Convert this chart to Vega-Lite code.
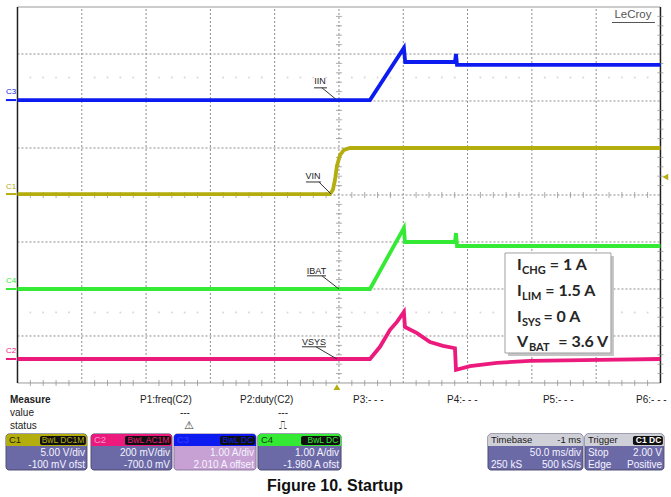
{
"$schema": "https://vega.github.io/schema/vega-lite/v6.json",
"width": 671, "height": 497,
"autosize": {"type": "fit", "contains": "padding"},
"padding": 0,
"background": "white",
"config": {"view": {"stroke": null}, "text": {"font": "Liberation Sans"}},
"datasets": {
 "vgrid": [{"t":-200,"v":-4,"v2":4},{"t":-150,"v":-4,"v2":4},{"t":-100,"v":-4,"v2":4},{"t":-50,"v":-4,"v2":4},{"t":0,"v":-4,"v2":4},{"t":50,"v":-4,"v2":4},{"t":100,"v":-4,"v2":4},{"t":150,"v":-4,"v2":4},{"t":200,"v":-4,"v2":4}],
 "hgrid": [{"t":-250,"t2":250,"v":-3},{"t":-250,"t2":250,"v":-2},{"t":-250,"t2":250,"v":-1},{"t":-250,"t2":250,"v":0},{"t":-250,"t2":250,"v":1},{"t":-250,"t2":250,"v":2},{"t":-250,"t2":250,"v":3}],
 "border_h": [{"t":-250,"t2":250,"v":4,"v2":4},{"t":-250,"t2":250,"v":-4,"v2":-4}],
 "border_v": [{"t":-250,"t2":-250,"v":-4,"v2":4},{"t":250,"t2":250,"v":-4,"v2":4}],
 "tkv": [
  {"t":-240,"v":0},{"t":-230,"v":0},{"t":-220,"v":0},{"t":-210,"v":0},{"t":-190,"v":0},{"t":-180,"v":0},{"t":-170,"v":0},{"t":-160,"v":0},{"t":-140,"v":0},{"t":-130,"v":0},{"t":-120,"v":0},{"t":-110,"v":0},{"t":-90,"v":0},{"t":-80,"v":0},{"t":-70,"v":0},{"t":-60,"v":0},{"t":-40,"v":0},{"t":-30,"v":0},{"t":-20,"v":0},{"t":-10,"v":0},{"t":10,"v":0},{"t":20,"v":0},{"t":30,"v":0},{"t":40,"v":0},{"t":60,"v":0},{"t":70,"v":0},{"t":80,"v":0},{"t":90,"v":0},{"t":110,"v":0},{"t":120,"v":0},{"t":130,"v":0},{"t":140,"v":0},{"t":160,"v":0},{"t":170,"v":0},{"t":180,"v":0},{"t":190,"v":0},{"t":210,"v":0},{"t":220,"v":0},{"t":230,"v":0},{"t":240,"v":0},
  {"t":-240,"v":-4},{"t":-230,"v":-4},{"t":-220,"v":-4},{"t":-210,"v":-4},{"t":-190,"v":-4},{"t":-180,"v":-4},{"t":-170,"v":-4},{"t":-160,"v":-4},{"t":-140,"v":-4},{"t":-130,"v":-4},{"t":-120,"v":-4},{"t":-110,"v":-4},{"t":-90,"v":-4},{"t":-80,"v":-4},{"t":-70,"v":-4},{"t":-60,"v":-4},{"t":-40,"v":-4},{"t":-30,"v":-4},{"t":-20,"v":-4},{"t":-10,"v":-4},{"t":10,"v":-4},{"t":20,"v":-4},{"t":30,"v":-4},{"t":40,"v":-4},{"t":60,"v":-4},{"t":70,"v":-4},{"t":80,"v":-4},{"t":90,"v":-4},{"t":110,"v":-4},{"t":120,"v":-4},{"t":130,"v":-4},{"t":140,"v":-4},{"t":160,"v":-4},{"t":170,"v":-4},{"t":180,"v":-4},{"t":190,"v":-4},{"t":210,"v":-4},{"t":220,"v":-4},{"t":230,"v":-4},{"t":240,"v":-4}
 ],
 "dots": [
  {"t":-240,"v":2.5},{"t":-230,"v":2.5},{"t":-220,"v":2.5},{"t":-210,"v":2.5},{"t":-190,"v":2.5},{"t":-180,"v":2.5},{"t":-170,"v":2.5},{"t":-160,"v":2.5},{"t":-140,"v":2.5},{"t":-130,"v":2.5},{"t":-120,"v":2.5},{"t":-110,"v":2.5},{"t":-90,"v":2.5},{"t":-80,"v":2.5},{"t":-70,"v":2.5},{"t":-60,"v":2.5},{"t":-40,"v":2.5},{"t":-30,"v":2.5},{"t":-20,"v":2.5},{"t":-10,"v":2.5},{"t":10,"v":2.5},{"t":20,"v":2.5},{"t":30,"v":2.5},{"t":40,"v":2.5},{"t":60,"v":2.5},{"t":70,"v":2.5},{"t":80,"v":2.5},{"t":90,"v":2.5},{"t":110,"v":2.5},{"t":120,"v":2.5},{"t":130,"v":2.5},{"t":140,"v":2.5},{"t":160,"v":2.5},{"t":170,"v":2.5},{"t":180,"v":2.5},{"t":190,"v":2.5},{"t":210,"v":2.5},{"t":220,"v":2.5},{"t":230,"v":2.5},{"t":240,"v":2.5},
  {"t":-240,"v":-2.5},{"t":-230,"v":-2.5},{"t":-220,"v":-2.5},{"t":-210,"v":-2.5},{"t":-190,"v":-2.5},{"t":-180,"v":-2.5},{"t":-170,"v":-2.5},{"t":-160,"v":-2.5},{"t":-140,"v":-2.5},{"t":-130,"v":-2.5},{"t":-120,"v":-2.5},{"t":-110,"v":-2.5},{"t":-90,"v":-2.5},{"t":-80,"v":-2.5},{"t":-70,"v":-2.5},{"t":-60,"v":-2.5},{"t":-40,"v":-2.5},{"t":-30,"v":-2.5},{"t":-20,"v":-2.5},{"t":-10,"v":-2.5},{"t":10,"v":-2.5},{"t":20,"v":-2.5},{"t":30,"v":-2.5},{"t":40,"v":-2.5},{"t":60,"v":-2.5},{"t":70,"v":-2.5},{"t":80,"v":-2.5},{"t":90,"v":-2.5},{"t":110,"v":-2.5},{"t":120,"v":-2.5},{"t":130,"v":-2.5},{"t":140,"v":-2.5},{"t":160,"v":-2.5},{"t":170,"v":-2.5},{"t":180,"v":-2.5},{"t":190,"v":-2.5},{"t":210,"v":-2.5},{"t":220,"v":-2.5},{"t":230,"v":-2.5},{"t":240,"v":-2.5}
 ],
 "tkh": [
  {"t":0,"v":-3.8},{"t":0,"v":-3.6},{"t":0,"v":-3.4},{"t":0,"v":-3.2},{"t":0,"v":-2.8},{"t":0,"v":-2.6},{"t":0,"v":-2.4},{"t":0,"v":-2.2},{"t":0,"v":-1.8},{"t":0,"v":-1.6},{"t":0,"v":-1.4},{"t":0,"v":-1.2},{"t":0,"v":-0.8},{"t":0,"v":-0.6},{"t":0,"v":-0.4},{"t":0,"v":-0.2},{"t":0,"v":0.2},{"t":0,"v":0.4},{"t":0,"v":0.6},{"t":0,"v":0.8},{"t":0,"v":1.2},{"t":0,"v":1.4},{"t":0,"v":1.6},{"t":0,"v":1.8},{"t":0,"v":2.2},{"t":0,"v":2.4},{"t":0,"v":2.6},{"t":0,"v":2.8},{"t":0,"v":3.2},{"t":0,"v":3.4},{"t":0,"v":3.6},{"t":0,"v":3.8},
  {"t":250,"v":-3.8},{"t":250,"v":-3.6},{"t":250,"v":-3.4},{"t":250,"v":-3.2},{"t":250,"v":-2.8},{"t":250,"v":-2.6},{"t":250,"v":-2.4},{"t":250,"v":-2.2},{"t":250,"v":-1.8},{"t":250,"v":-1.6},{"t":250,"v":-1.4},{"t":250,"v":-1.2},{"t":250,"v":-0.8},{"t":250,"v":-0.6},{"t":250,"v":-0.4},{"t":250,"v":-0.2},{"t":250,"v":0.2},{"t":250,"v":0.4},{"t":250,"v":0.6},{"t":250,"v":0.8},{"t":250,"v":1.2},{"t":250,"v":1.4},{"t":250,"v":1.6},{"t":250,"v":1.8},{"t":250,"v":2.2},{"t":250,"v":2.4},{"t":250,"v":2.6},{"t":250,"v":2.8},{"t":250,"v":3.2},{"t":250,"v":3.4},{"t":250,"v":3.6},{"t":250,"v":3.8}
 ],
 "tr": [
  {"ch":"C3","t":-250,"v":2.02},{"ch":"C3","t":24.1,"v":2.02},{"ch":"C3","t":50.5,"v":3.13},{"ch":"C3","t":51.5,"v":2.83},{"ch":"C3","t":90.2,"v":2.83},{"ch":"C3","t":91.0,"v":3.0},{"ch":"C3","t":91.8,"v":2.77},{"ch":"C3","t":250,"v":2.77},
  {"ch":"C1","t":-250,"v":0.02},{"ch":"C1","t":-7,"v":0.02},{"ch":"C1","t":-4.7,"v":0.11},{"ch":"C1","t":-3.1,"v":0.32},{"ch":"C1","t":-1.6,"v":0.62},{"ch":"C1","t":0.8,"v":0.85},{"ch":"C1","t":3.9,"v":0.96},{"ch":"C1","t":8.6,"v":1.0},{"ch":"C1","t":250,"v":1.0},
  {"ch":"C4","t":-250,"v":-2.0},{"ch":"C4","t":24.1,"v":-2.0},{"ch":"C4","t":50.5,"v":-0.70},{"ch":"C4","t":51.3,"v":-1.0},{"ch":"C4","t":90.2,"v":-1.0},{"ch":"C4","t":91.0,"v":-0.81},{"ch":"C4","t":91.8,"v":-1.085},{"ch":"C4","t":250,"v":-1.085},
  {"ch":"C2","t":-250,"v":-3.49},{"ch":"C2","t":24.1,"v":-3.49},{"ch":"C2","t":31.9,"v":-3.23},{"ch":"C2","t":39.7,"v":-2.87},{"ch":"C2","t":45.1,"v":-2.70},{"ch":"C2","t":50.5,"v":-2.49},{"ch":"C2","t":51.3,"v":-2.81},{"ch":"C2","t":60.7,"v":-2.94},{"ch":"C2","t":70.8,"v":-3.13},{"ch":"C2","t":80.9,"v":-3.21},{"ch":"C2","t":90.2,"v":-3.26},{"ch":"C2","t":91.0,"v":-3.72},{"ch":"C2","t":101.9,"v":-3.64},{"ch":"C2","t":122.9,"v":-3.57},{"ch":"C2","t":148.5,"v":-3.53},{"ch":"C2","t":203,"v":-3.51},{"ch":"C2","t":250,"v":-3.49}
 ],
 "chlab": [{"ch":"C3","t":-259,"v":2.2},{"ch":"C1","t":-259,"v":0.18},{"ch":"C4","t":-259,"v":-1.84},{"ch":"C2","t":-259,"v":-3.32}],
 "chdash": [{"ch":"C3","t":-259,"t2":-251,"v":2.02,"v2":2.02},{"ch":"C1","t":-259,"t2":-251,"v":0.02,"v2":0.02},{"ch":"C4","t":-259,"t2":-251,"v":-2.0,"v2":-2.0},{"ch":"C2","t":-259,"t2":-251,"v":-3.49,"v2":-3.49}],
 "ann": [{"t":-14.8,"v":2.43,"s":"IIN"},{"t":-20.2,"v":0.40,"s":"VIN"},{"t":-17.5,"v":-1.62,"s":"IBAT"},{"t":-19.4,"v":-3.13,"s":"VSYS"}],
 "annl": [
  {"t":-19.4,"t2":-9.3,"v":2.28,"v2":2.28},{"t":-13.2,"t2":-1.6,"v":2.28,"v2":2.02},
  {"t":-25.7,"t2":-14.0,"v":0.277,"v2":0.277},{"t":-15.6,"t2":-6.2,"v":0.277,"v2":0.02},
  {"t":-24.9,"t2":-10.1,"v":-1.72,"v2":-1.72},{"t":-13.2,"t2":0,"v":-1.72,"v2":-2.0},
  {"t":-28.8,"t2":-10.1,"v":-3.23,"v2":-3.23},{"t":-17.9,"t2":-1.6,"v":-3.23,"v2":-3.49}
 ],
 "lecroy": [{"t":228.6,"v":3.83,"s":"LeCroy"}],
 "lecroyl": [{"t":212.3,"t2":245.7,"v":3.67,"v2":3.67}],
 "trigl": [{"t":253.8,"v":0.383}],
 "trigp": [{"t":-1.6,"v":-4.09}],
 "shadow": [{"t":131.4,"t2":213.8,"v":-1.298,"v2":-3.426}],
 "tbox": [{"t":129.1,"t2":211.5,"v":-1.234,"v2":-3.362}],
 "bmain": [{"t":138.4,"v":-1.596,"s":"I"},{"t":138.4,"v":-2.149,"s":"I"},{"t":138.4,"v":-2.702,"s":"I"},{"t":138.4,"v":-3.234,"s":"V"}],
 "bsub": [{"t":142.3,"v":-1.596,"s":"CHG"},{"t":142.3,"v":-2.149,"s":"LIM"},{"t":142.3,"v":-2.702,"s":"SYS"},{"t":147.7,"v":-3.234,"s":"BAT"}],
 "brest": [{"t":164.0,"v":-1.596,"s":"= 1 A"},{"t":160.5,"v":-2.149,"s":"= 1.5 A"},{"t":159.0,"v":-2.702,"s":"= 0 A"},{"t":170.5,"v":-3.234,"s":"= 3.6 V"}],
 "measb": [{"t":-255.8,"v":-4.362,"s":"Measure"}],
 "meas": [{"t":-154.7,"v":-4.362,"s":"P1:freq(C2)"},{"t":-77,"v":-4.362,"s":"P2:duty(C2)"},{"t":10.9,"v":-4.362,"s":"P3:- - -"},{"t":84,"v":-4.362,"s":"P4:- - -"},{"t":158.6,"v":-4.362,"s":"P5:- - -"},{"t":231,"v":-4.362,"s":"P6:- - -"},{"t":-255.8,"v":-4.638,"s":"value"},{"t":-255.8,"v":-4.915,"s":"status"}],
 "measc": [{"t":-119.8,"v":-4.638,"s":"---"},{"t":-43.5,"v":-4.638,"s":"---"}],
 "icons": [{"t":-116.5,"v":-4.915,"s":"⚠"},{"t":-43.5,"v":-4.915,"s":"⎍"}],
 "bxbody": [{"t":-258.9,"t2":-196.0,"v":-5.085,"v2":-5.851},{"t":-192.8,"t2":-129.9,"v":-5.085,"v2":-5.851},{"t":-63.0,"t2":1.6,"v":-5.085,"v2":-5.851},{"t":115.9,"t2":189.7,"v":-5.085,"v2":-5.851},{"t":191.3,"t2":252.7,"v":-5.085,"v2":-5.851}],
 "bxsel": [{"t":-128.3,"t2":-64.5,"v":-5.085,"v2":-5.851}],
 "bxhead": [{"ch":"C1","t":-258.9,"t2":-196.0,"v":-5.085,"v2":-5.34},{"ch":"C2","t":-192.8,"t2":-129.9,"v":-5.085,"v2":-5.34},{"ch":"C3","t":-128.3,"t2":-64.5,"v":-5.085,"v2":-5.34},{"ch":"C4","t":-63.0,"t2":1.6,"v":-5.085,"v2":-5.34},{"ch":"TB","t":115.9,"t2":189.7,"v":-5.085,"v2":-5.34},{"ch":"TB","t":191.3,"t2":252.7,"v":-5.085,"v2":-5.34}],
 "badge": [{"t":-232.5,"t2":-196.8,"v":-5.128,"v2":-5.319},{"t":-166.4,"t2":-130.6,"v":-5.128,"v2":-5.319},{"t":-92.5,"t2":-65.3,"v":-5.128,"v2":-5.319},{"t":-29.5,"t2":0.8,"v":-5.128,"v2":-5.319},{"t":228.6,"t2":251.9,"v":-5.128,"v2":-5.319}],
 "badget": [{"ch":"C1","t":-198.0,"v":-5.223,"s":"BwL DC1M"},{"ch":"C2","t":-131.9,"v":-5.223,"s":"BwL AC1M"},{"ch":"C3","t":-66.6,"v":-5.223,"s":"BwL DC"},{"ch":"C4","t":-0.5,"v":-5.223,"s":"BwL DC"}],
 "trigbadge": [{"t":250.7,"v":-5.223,"s":"C1 DC"}],
 "hname": [{"ch":"C1h","t":-256.6,"v":-5.213,"s":"C1"},{"ch":"C2h","t":-190.5,"v":-5.213,"s":"C2"},{"ch":"C3h","t":-126.0,"v":-5.213,"s":"C3"},{"ch":"C4h","t":-60.7,"v":-5.213,"s":"C4"}],
 "hdarkl": [{"t":118.2,"v":-5.213,"s":"Timebase"},{"t":193.6,"v":-5.213,"s":"Trigger"}],
 "hdarkr": [{"t":188.2,"v":-5.213,"s":"-1 ms"}],
 "bodyr": [{"t":-197.5,"v":-5.5,"s":"5.00 V/div"},{"t":-197.5,"v":-5.745,"s":"-100 mV ofst"},{"t":-131.4,"v":-5.5,"s":"200 mV/div"},{"t":-131.4,"v":-5.745,"s":"-700.0 mV"},{"t":-66.1,"v":-5.5,"s":"1.00 A/div"},{"t":-66.1,"v":-5.745,"s":"2.010 A offset"},{"t":0,"v":-5.5,"s":"1.00 A/div"},{"t":0,"v":-5.745,"s":"-1.980 A ofst"},{"t":188.2,"v":-5.5,"s":"50.0 ms/div"},{"t":188.2,"v":-5.745,"s":"500 kS/s"},{"t":251.2,"v":-5.5,"s":"2.00 V"},{"t":251.2,"v":-5.745,"s":"Positive"}],
 "bodyl": [{"t":118.2,"v":-5.745,"s":"250 kS"},{"t":193.6,"v":-5.5,"s":"Stop"},{"t":193.6,"v":-5.745,"s":"Edge"}],
 "caption": [{"t":-3.1,"v":-6.19,"s":"Figure 10. Startup"}]
},
"encoding": {
 "x": {"field": "t", "type": "quantitative", "scale": {"domain": [-263.6, 258.2], "nice": false, "zero": false}, "axis": null},
 "y": {"field": "v", "type": "quantitative", "scale": {"domain": [-6.426, 4.149], "nice": false, "zero": false}, "axis": null}
},
"layer": [
 {"data": {"name": "vgrid"}, "mark": {"type": "rule", "color": "#8c8c8c", "strokeDash": [2, 2], "strokeWidth": 1}, "encoding": {"y2": {"field": "v2"}}},
 {"data": {"name": "hgrid"}, "mark": {"type": "rule", "color": "#8c8c8c", "strokeDash": [2, 2], "strokeWidth": 1}, "encoding": {"x2": {"field": "t2"}}},
 {"data": {"name": "border_h"}, "mark": {"type": "rule", "color": "#999999", "strokeWidth": 1}, "encoding": {"x2": {"field": "t2"}, "y2": {"field": "v2"}}},
 {"data": {"name": "border_v"}, "mark": {"type": "rule", "color": "#202020", "strokeWidth": 1.5}, "encoding": {"x2": {"field": "t2"}, "y2": {"field": "v2"}}},
 {"data": {"name": "tkv"}, "mark": {"type": "tick", "orient": "vertical", "size": 6, "thickness": 1, "color": "#8a8a8a"}},
 {"data": {"name": "tkh"}, "mark": {"type": "tick", "orient": "horizontal", "size": 6, "thickness": 1, "color": "#8a8a8a"}},
 {"data": {"name": "dots"}, "mark": {"type": "point", "shape": "square", "size": 3, "filled": true, "color": "#c4c4c4"}},
 {"data": {"name": "tr"}, "mark": {"type": "line", "strokeWidth": 3.8, "strokeJoin": "miter"},
  "encoding": {"color": {"field": "ch", "type": "nominal", "legend": null, "scale": {"domain": ["C1","C2","C3","C4","TB","C1h","C2h","C3h","C4h"], "range": ["#b4ad0e","#ec1a7c","#0c1cf0","#34ea34","#cfcfd8","#1e1e00","#ff9cc8","#3a3aff","#0d3d0d"]}}}},
 {"data": {"name": "chlab"}, "mark": {"type": "text", "align": "left", "baseline": "middle", "fontSize": 8},
  "encoding": {"text": {"field": "ch", "type": "nominal"}, "color": {"field": "ch", "type": "nominal", "legend": null, "scale": {"domain": ["C1","C2","C3","C4","TB","C1h","C2h","C3h","C4h"], "range": ["#b4ad0e","#ec1a7c","#0c1cf0","#34ea34","#cfcfd8","#1e1e00","#ff9cc8","#3a3aff","#0d3d0d"]}}}},
 {"data": {"name": "chdash"}, "mark": {"type": "rule", "strokeWidth": 2},
  "encoding": {"x2": {"field": "t2"}, "y2": {"field": "v2"}, "color": {"field": "ch", "type": "nominal", "legend": null, "scale": {"domain": ["C1","C2","C3","C4","TB","C1h","C2h","C3h","C4h"], "range": ["#b4ad0e","#ec1a7c","#0c1cf0","#34ea34","#cfcfd8","#1e1e00","#ff9cc8","#3a3aff","#0d3d0d"]}}}},
 {"data": {"name": "ann"}, "mark": {"type": "text", "align": "center", "baseline": "middle", "fontSize": 9, "color": "#222222"}, "encoding": {"text": {"field": "s", "type": "nominal"}}},
 {"data": {"name": "annl"}, "mark": {"type": "rule", "color": "#333333", "strokeWidth": 1}, "encoding": {"x2": {"field": "t2"}, "y2": {"field": "v2"}}},
 {"data": {"name": "lecroy"}, "mark": {"type": "text", "align": "center", "baseline": "middle", "fontSize": 11.5, "color": "#555555"}, "encoding": {"text": {"field": "s", "type": "nominal"}}},
 {"data": {"name": "lecroyl"}, "mark": {"type": "rule", "color": "#555555", "strokeWidth": 1}, "encoding": {"x2": {"field": "t2"}, "y2": {"field": "v2"}}},
 {"data": {"name": "trigl"}, "mark": {"type": "point", "shape": "triangle-left", "size": 45, "filled": true, "color": "#b4ad0e", "opacity": 1}},
 {"data": {"name": "trigp"}, "mark": {"type": "point", "shape": "triangle-up", "size": 45, "filled": true, "color": "#b4ad0e", "opacity": 1}},
 {"data": {"name": "shadow"}, "mark": {"type": "rect", "color": "#c4c4c4"}, "encoding": {"x2": {"field": "t2"}, "y2": {"field": "v2"}}},
 {"data": {"name": "tbox"}, "mark": {"type": "rect", "fill": "#ffffff", "stroke": "#a0a0a0", "strokeWidth": 1}, "encoding": {"x2": {"field": "t2"}, "y2": {"field": "v2"}}},
 {"data": {"name": "bmain"}, "mark": {"type": "text", "align": "left", "baseline": "alphabetic", "font": "Lato", "fontWeight": "bold", "fontSize": 16, "color": "#262626"}, "encoding": {"text": {"field": "s", "type": "nominal"}}},
 {"data": {"name": "bsub"}, "mark": {"type": "text", "align": "left", "baseline": "alphabetic", "font": "Lato", "fontWeight": "bold", "fontSize": 11, "dy": 4, "color": "#262626"}, "encoding": {"text": {"field": "s", "type": "nominal"}}},
 {"data": {"name": "brest"}, "mark": {"type": "text", "align": "left", "baseline": "alphabetic", "font": "Lato", "fontWeight": "bold", "fontSize": 16, "color": "#262626"}, "encoding": {"text": {"field": "s", "type": "nominal"}}},
 {"data": {"name": "measb"}, "mark": {"type": "text", "align": "left", "baseline": "middle", "fontSize": 10, "fontWeight": "bold", "color": "#222222"}, "encoding": {"text": {"field": "s", "type": "nominal"}}},
 {"data": {"name": "meas"}, "mark": {"type": "text", "align": "left", "baseline": "middle", "fontSize": 10, "color": "#222222"}, "encoding": {"text": {"field": "s", "type": "nominal"}}},
 {"data": {"name": "measc"}, "mark": {"type": "text", "align": "center", "baseline": "middle", "fontSize": 10, "color": "#222222"}, "encoding": {"text": {"field": "s", "type": "nominal"}}},
 {"data": {"name": "icons"}, "mark": {"type": "text", "align": "center", "baseline": "middle", "fontSize": 11, "font": "DejaVu Sans", "color": "#333333"}, "encoding": {"text": {"field": "s", "type": "nominal"}}},
 {"data": {"name": "bxbody"}, "mark": {"type": "rect", "fill": "#6c69a7", "stroke": "#4a4a70", "strokeWidth": 1, "cornerRadius": 3}, "encoding": {"x2": {"field": "t2"}, "y2": {"field": "v2"}}},
 {"data": {"name": "bxsel"}, "mark": {"type": "rect", "fill": "#c7a1d3", "stroke": "#8a7aa0", "strokeWidth": 1, "cornerRadius": 3}, "encoding": {"x2": {"field": "t2"}, "y2": {"field": "v2"}}},
 {"data": {"name": "bxhead"}, "mark": {"type": "rect", "cornerRadiusTopLeft": 3, "cornerRadiusTopRight": 3},
  "encoding": {"x2": {"field": "t2"}, "y2": {"field": "v2"}, "color": {"field": "ch", "type": "nominal", "legend": null, "scale": {"domain": ["C1","C2","C3","C4","TB","C1h","C2h","C3h","C4h"], "range": ["#b4ad0e","#ec1a7c","#0c1cf0","#34ea34","#cfcfd8","#1e1e00","#ff9cc8","#3a3aff","#0d3d0d"]}}}},
 {"data": {"name": "badge"}, "mark": {"type": "rect", "fill": "#101010", "cornerRadius": 2}, "encoding": {"x2": {"field": "t2"}, "y2": {"field": "v2"}}},
 {"data": {"name": "badget"}, "mark": {"type": "text", "align": "right", "baseline": "middle", "fontSize": 8.5},
  "encoding": {"text": {"field": "s", "type": "nominal"}, "color": {"field": "ch", "type": "nominal", "legend": null, "scale": {"domain": ["C1","C2","C3","C4","TB","C1h","C2h","C3h","C4h"], "range": ["#b4ad0e","#ec1a7c","#0c1cf0","#34ea34","#cfcfd8","#1e1e00","#ff9cc8","#3a3aff","#0d3d0d"]}}}},
 {"data": {"name": "trigbadge"}, "mark": {"type": "text", "align": "right", "baseline": "middle", "fontSize": 8.5, "fontWeight": "bold", "color": "#ffffff"}, "encoding": {"text": {"field": "s", "type": "nominal"}}},
 {"data": {"name": "hname"}, "mark": {"type": "text", "align": "left", "baseline": "middle", "fontSize": 9.5},
  "encoding": {"text": {"field": "s", "type": "nominal"}, "color": {"field": "ch", "type": "nominal", "legend": null, "scale": {"domain": ["C1","C2","C3","C4","TB","C1h","C2h","C3h","C4h"], "range": ["#b4ad0e","#ec1a7c","#0c1cf0","#34ea34","#cfcfd8","#1e1e00","#ff9cc8","#3a3aff","#0d3d0d"]}}}},
 {"data": {"name": "hdarkl"}, "mark": {"type": "text", "align": "left", "baseline": "middle", "fontSize": 9.5, "color": "#1a1a1a"}, "encoding": {"text": {"field": "s", "type": "nominal"}}},
 {"data": {"name": "hdarkr"}, "mark": {"type": "text", "align": "right", "baseline": "middle", "fontSize": 9.5, "color": "#1a1a1a"}, "encoding": {"text": {"field": "s", "type": "nominal"}}},
 {"data": {"name": "bodyr"}, "mark": {"type": "text", "align": "right", "baseline": "middle", "fontSize": 10, "color": "#f4f4ff"}, "encoding": {"text": {"field": "s", "type": "nominal"}}},
 {"data": {"name": "bodyl"}, "mark": {"type": "text", "align": "left", "baseline": "middle", "fontSize": 10, "color": "#f4f4ff"}, "encoding": {"text": {"field": "s", "type": "nominal"}}},
 {"data": {"name": "caption"}, "mark": {"type": "text", "align": "center", "baseline": "middle", "fontSize": 16, "fontWeight": "bold", "color": "#111111"}, "encoding": {"text": {"field": "s", "type": "nominal"}}}
]
}
